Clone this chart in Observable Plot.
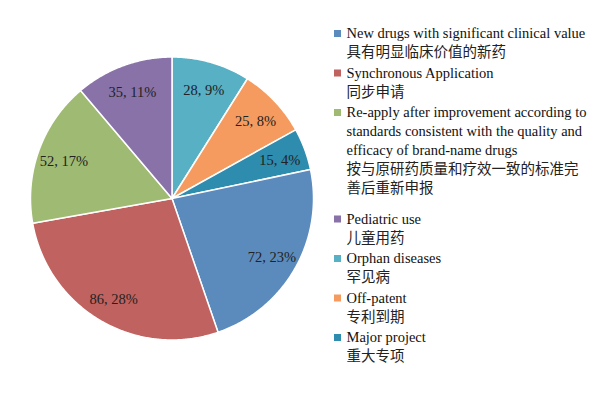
<!DOCTYPE html>
<html><head><meta charset="utf-8">
<script src="https://cdn.jsdelivr.net/npm/d3@7"></script>
<script src="https://cdn.jsdelivr.net/npm/@observablehq/plot@0.6"></script>
<style>body{margin:0;background:#fff}</style>
</head><body><div id="chart"></div>
<script>
// ---- data ----
const categories = ["New drugs with significant clinical value", "Synchronous Application",
  "Re-apply after improvement according to standards consistent with the quality and efficacy of brand-name drugs",
  "Pediatric use", "Orphan diseases", "Off-patent", "Major project"];
const values = [72, 86, 52, 35, 28, 25, 15];
const percentLabels = ["23%", "28%", "17%", "11%", "9%", "8%", "4%"];
const colors = ["#5b8bbd", "#c0625f", "#9fba72", "#8872a8", "#57b0c4", "#f59b5f", "#2e8cae"];
const legendLinesEn = [["New drugs with significant clinical value"], ["Synchronous Application"],
  ["Re-apply after improvement according to", "standards consistent with the quality and", "efficacy of brand-name drugs"],
  ["Pediatric use"], ["Orphan diseases"], ["Off-patent"], ["Major project"]];
const legendLinesZh = [["具有明显临床价值的新药"], ["同步申请"], ["按与原研药质量和疗效一致的标准完", "善后重新申报"],
  ["儿童用药"], ["罕见病"], ["专利到期"], ["重大专项"]];
// slice order clockwise from 12 o'clock
const sliceOrder = [4, 5, 6, 0, 1, 2, 3];

// ---- layout ----
const serif = "'Liberation Serif', 'Times New Roman', 'DejaVu Serif', serif";
const cjk = "'Noto Sans CJK SC', sans-serif";
const cx = 171.5, cy = 198, R = 141.5, labelR = 115;
const ordered = sliceOrder.map(i => ({cat: categories[i], value: values[i], pct: percentLabels[i]}));
const arcs = d3.pie().sort(null).value(d => d.value)(ordered);
const pos = (a, r) => ({x: cx + r * Math.sin(a), y: cy - r * Math.cos(a)});

const piePts = [];
for (const a of arcs) {
  const c = a.data.cat;
  piePts.push({cat: c, ...pos(0, 0)});
  const n = Math.max(2, Math.ceil((a.endAngle - a.startAngle) / (Math.PI / 360)));
  for (let k = 0; k <= n; k++) {
    const t = a.startAngle + (a.endAngle - a.startAngle) * k / n;
    piePts.push({cat: c, ...pos(t, R)});
  }
  piePts.push({cat: c, ...pos(0, 0)});
}
const labels = arcs.map(a => ({text: `${a.data.value}, ${a.data.pct}`, ...pos((a.startAngle + a.endAngle) / 2, labelR)}));

// legend layout
const legX = 346, lineH = 19, itemGap = 1.5;
const legendText = [], legendMarks = [];
let y = 33;
categories.forEach((c, i) => {
  legendMarks.push({cat: c, x1: 334, x2: 341, y1: y - 3, y2: y + 4});
  for (const s of legendLinesEn[i]) { legendText.push({text: s, x: legX, y, zh: false}); y += lineH; }
  for (const s of legendLinesZh[i]) { legendText.push({text: s, x: legX, y, zh: true}); y += lineH; }
  y += itemGap + (i === 2 ? 10 : 0);
});

const plot = Plot.plot({
  width: 600, height: 401, margin: 0,
  x: {domain: [0, 600], range: [0, 600], axis: null},
  y: {domain: [0, 401], range: [0, 401], axis: null},
  color: {domain: categories, range: colors},
  style: {background: "#fff", fontFamily: serif},
  marks: [
    Plot.line(piePts, {x: "x", y: "y", z: "cat", fill: "cat", stroke: "#fff", strokeWidth: 1.5, strokeLinejoin: "round"}),
    Plot.text(labels, {x: "x", y: "y", dy: 2, text: "text", fontSize: 14.5, fontFamily: serif, fill: "#222"}),
    Plot.rect(legendMarks, {x1: "x1", x2: "x2", y1: "y1", y2: "y2", fill: "cat"}),
    Plot.text(legendText.filter(d => !d.zh), {x: "x", y: "y", text: "text", textAnchor: "start", fontSize: 14.5, fontFamily: serif, fill: "#111"}),
    Plot.text(legendText.filter(d => d.zh), {x: "x", y: "y", text: "text", textAnchor: "start", fontSize: 14.5, fontFamily: cjk, fill: "#222"})
  ]
});
document.getElementById("chart").appendChild(plot);
</script>
</body></html>
